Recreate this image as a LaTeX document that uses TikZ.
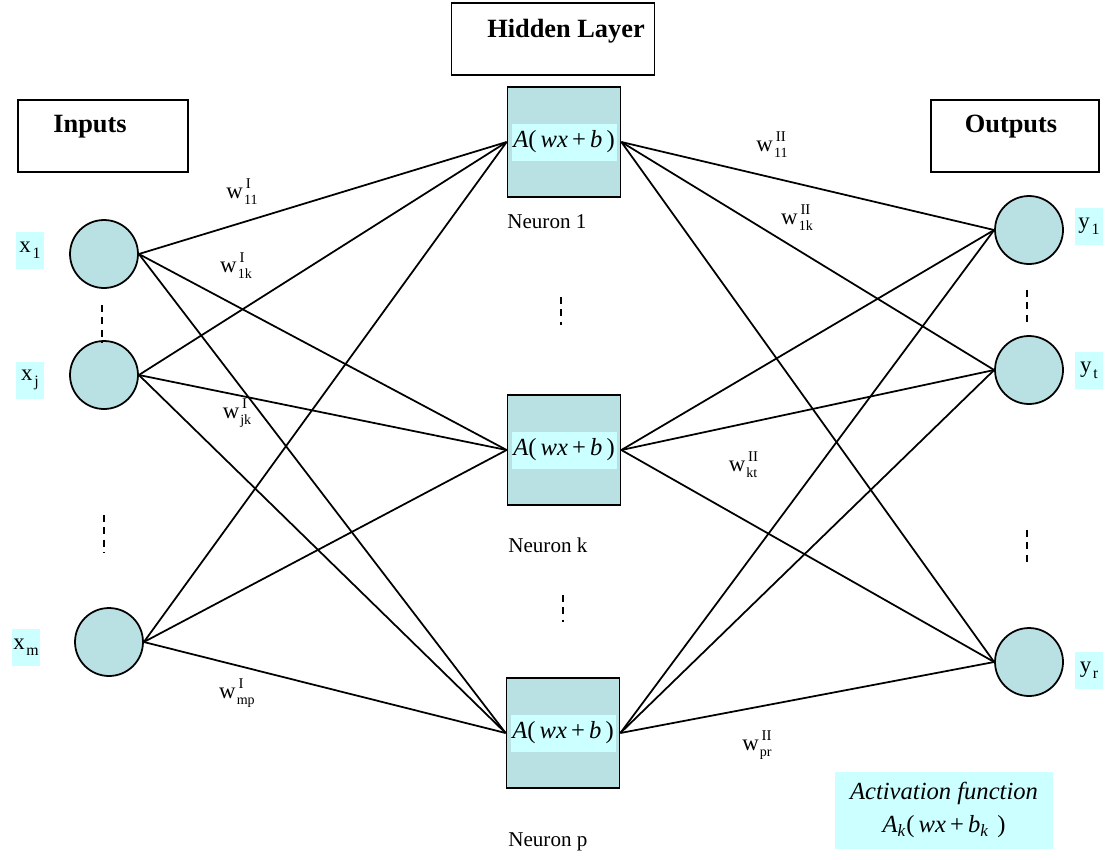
\documentclass[tikz,border=0pt]{standalone}
\usepackage{fontspec}
\setmainfont{Liberation Serif}

\definecolor{cellfill}{HTML}{B9E0E3}
\definecolor{tagfill}{HTML}{CCFFFF}

\newcommand{\wgt}[2]{w\hspace{0.6pt}\rlap{\hspace{1pt}\raisebox{5.6pt}{\fontsize{8.5}{9}\selectfont #1}}\raisebox{-3.4pt}{\fontsize{8}{9}\selectfont #2}}
\newcommand{\sbx}[1]{\hspace{1pt}\raisebox{-3.4pt}{\fontsize{9}{10}\selectfont #1}}
\newcommand{\actf}{\textit{A}(\,\textit{wx}\,+\,\textit{b}\,)}

\tikzset{
  neuron/.style={circle,draw,line width=1pt,fill=cellfill,minimum size=1.36cm,inner sep=0pt},
  unit/.style={rectangle,draw,line width=1pt,fill=cellfill,minimum width=2.26cm,minimum height=2.2cm},
  band/.style={rectangle,fill=tagfill,minimum width=2.1cm,minimum height=0.74cm,inner sep=0pt,
    font=\fontsize{14}{16}\selectfont},
  tag/.style={rectangle,fill=tagfill,minimum width=0.56cm,minimum height=0.74cm,inner sep=0pt,
    font=\fontsize{13}{15}\selectfont},
  headbox/.style={rectangle,draw,line width=1pt,minimum width=3.4cm,minimum height=1.44cm},
  headtext/.style={font=\fontsize{15}{18}\selectfont\bfseries},
  wlabel/.style={font=\fontsize{13}{15}\selectfont,inner sep=0pt},
  nlabel/.style={font=\fontsize{12}{14}\selectfont,anchor=west,inner sep=0pt},
  link/.style={line width=1pt},
  dashline/.style={line width=1pt,dash pattern=on 4pt off 3pt}
}

\begin{document}
\begin{tikzpicture}[x=0.02cm,y=-0.02cm]
  \useasboundingbox (0,0) rectangle (1111,859);

  % title boxes
  \node[headbox] (inbox) at (103,136) {};
  \node[headtext] (intext) at (90,127) {Inputs};
  \node[headbox,minimum width=4.06cm] (hidbox) at (553,39) {};
  \node[headtext] (hidtext) at (566,31) {Hidden Layer};
  \node[headbox,minimum width=3.36cm] (outbox) at (1015,136) {};
  \node[headtext] (outtext) at (1011,127) {Outputs};

  % layers
  \node[neuron] (x1) at (104,254) {};
  \node[neuron] (xj) at (104,375) {};
  \node[neuron] (xm) at (109,642) {};

  \node[unit] (h1) at (564,142) {};
  \node[unit] (hk) at (564,450) {};
  \node[unit] (hp) at (563,733) {};

  \node[neuron] (y1) at (1029,230) {};
  \node[neuron] (yt) at (1029,370) {};
  \node[neuron] (yr) at (1029,662) {};

  \foreach \i in {x1,xj,xm}
    \foreach \h in {h1,hk,hp}
      \draw[link] (\i.east) -- (\h.west);
  \foreach \h in {h1,hk,hp}
    \foreach \o in {y1,yt,yr}
      \draw[link] (\h.east) -- (\o.west);

  \node[band] (b1) at (h1) {\actf};
  \node[band] (bk) at (hk) {\actf};
  \node[band] (bp) at (hp) {\actf};

  \node[nlabel] (n1) at (507,222) {Neuron 1};
  \node[nlabel] (nk) at (508,545) {Neuron k};
  \node[nlabel] (np) at (508,842) {Neuron p};

  % input and output tags
  \node[tag] (tx1) at (30,250) {x\sbx{1}};
  \node[tag] (txj) at (30,380) {x\sbx{j}};
  \node[tag] (txm) at (26,647) {x\sbx{m}};
  \node[tag] (ty1) at (1089,226) {y\sbx{1}};
  \node[tag] (tyt) at (1089,370) {y\sbx{t}};
  \node[tag] (tyr) at (1089,670) {y\sbx{r}};

  % weights
  \node[wlabel] (w11) at (242,192) {\wgt{I}{11}};
  \node[wlabel] (w1k) at (236,266) {\wgt{I}{1k}};
  \node[wlabel] (wjk) at (237,413) {\wgt{I}{jk}};
  \node[wlabel] (wmp) at (237,693) {\wgt{I}{mp}};
  \node[wlabel] (v11) at (772,145) {\wgt{II}{11}};
  \node[wlabel] (v1k) at (797,218) {\wgt{II}{1k}};
  \node[wlabel] (vkt) at (743,465) {\wgt{II}{kt}};
  \node[wlabel] (vpr) at (757,745) {\wgt{II}{pr}};

  % dots
  \draw[dashline] (102,305) -- (102,343);
  \draw[dashline] (104,515) -- (104,553);
  \draw[dashline] (561,297) -- (561,325);
  \draw[dashline] (563,595) -- (563,622);
  \draw[dashline] (1027,290) -- (1027,325);
  \draw[dashline] (1027,530) -- (1027,565);

  \node[rectangle,fill=tagfill,minimum width=4.38cm,minimum height=1.54cm,align=center,
    font=\fontsize{14}{19}\selectfont] (actbox) at (944,810)
    {\textit{Activation function}\\\textit{A}\textsubscript{\textit{k}}(\,\textit{wx}\,+\,\textit{b}\textsubscript{\textit{k}}\,\,)};
\end{tikzpicture}
\end{document}
